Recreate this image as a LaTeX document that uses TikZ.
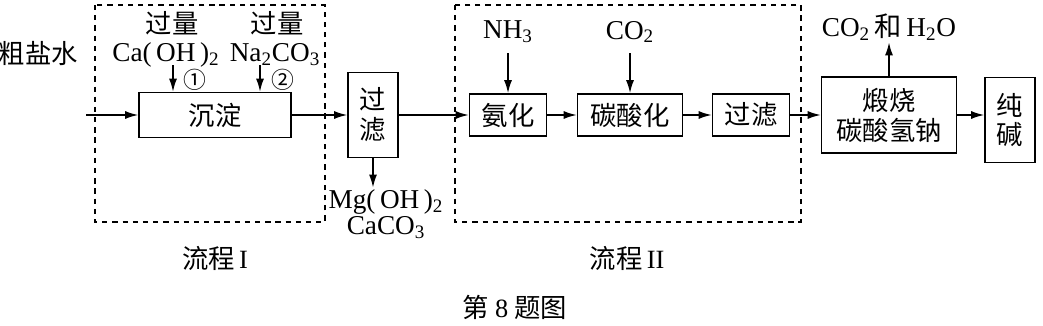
\documentclass[tikz,border=0pt]{standalone}
\usepackage{fontspec}
\setmainfont{Liberation Serif}
\newfontfamily\cjk{Noto Sans CJK SC}
\usetikzlibrary{arrows.meta,positioning}
\tikzset{
  arr/.style={-{Latex[length=2.6mm,width=1.6mm]}, line width=0.9pt},
  unit/.style={draw, line width=0.9pt, inner sep=0pt, align=center,
    font=\cjk\fontsize{15}{17}\selectfont},
  grp/.style={line width=0.9pt, dash pattern=on 3pt off 2.8pt},
  chem/.style={font=\fontsize{15.5}{15.5}\selectfont, inner sep=1pt},
  cn/.style={font=\cjk\fontsize{15}{17}\selectfont, inner sep=1pt},
  num/.style={font=\cjk\fontsize{13}{13}\selectfont, inner sep=0pt},
}

\begin{document}
\begin{tikzpicture}[x=0.02cm,y=-0.02cm]
\useasboundingbox (0,0) rectangle (1043,325);

% ===================== process I ============================================
\draw[grp] (95,5) rectangle (325,222);
\node[cn, anchor=east] (brine) at (80,53) {粗盐水};
\coordinate (feed) at (86,115);
\node[unit, minimum width=3.04cm, minimum height=0.9cm] (precip) at (215,115) {沉淀};
\node[cn] (xsA) at (172,23) {过量};
\node[chem] (caoh) at (166,55) {Ca(\,OH\,)\textsubscript{2}};
\node[cn] (xsB) at (277,23) {过量};
\node[chem] (naco) at (275,55) {Na\textsubscript{2}CO\textsubscript{3}};
\coordinate (dA) at (173,65);
\coordinate (dB) at (260,65);
\draw[arr] (feed) -- (precip);
\draw[arr] (dA) -- (dA |- precip.north);
\draw[arr] (dB) -- (dB |- precip.north);
\node[num] (stA) at (195,80) {①};
\node[num] (stB) at (283,80) {②};
\node[cn] (labA) at (215,258) {流程\,\rmfamily I};

% ===================== filtration ===========================================
\node[unit, minimum width=1.0cm, minimum height=1.7cm] (filtA) at (373,115) {过\\滤};
\node[chem, align=center, font=\fontsize{15.5}{13}\selectfont] (solid) at (386,214)
  {Mg(\,OH\,)\textsubscript{2}\\CaCO\textsubscript{3}};
\draw[arr] (precip) -- (filtA);
\draw[arr] (filtA) -- (filtA |- solid.north);

% ===================== process II ===========================================
\draw[grp] (455,5) rectangle (801,222);
\node[unit, minimum width=1.54cm, minimum height=0.84cm] (ammon) at (508,115) {氨化};
\node[unit, minimum width=2.1cm, minimum height=0.84cm] (carbon) at (630,115) {碳酸化};
\node[unit, minimum width=1.54cm, minimum height=0.84cm] (filtB) at (751,115) {过滤};
\node[chem] (nh3) at (508,32) {NH\textsubscript{3}};
\node[chem] (co2) at (630,32) {CO\textsubscript{2}};
\draw[arr] (filtA) -- (ammon);
\draw[arr] (ammon) -- (carbon);
\draw[arr] (carbon) -- (filtB);
\draw[arr, shorten <=0.16cm] (nh3) -- (ammon);
\draw[arr, shorten <=0.16cm] (co2) -- (carbon);
\node[cn] (labB) at (627,258) {流程\,\rmfamily II};

% ===================== calcination ==========================================
\node[unit, minimum width=2.7cm, minimum height=1.52cm] (calc) at (889,115) {煅烧\\碳酸氢钠};
\node[unit, minimum width=1.0cm, minimum height=1.7cm] (soda) at (1010,120) {纯\\碱};
\node[chem] (gas) at (889,27) {CO\textsubscript{2}\,{\cjk 和}\,H\textsubscript{2}O};
\draw[arr] (filtB) -- (calc);
\draw[arr] (calc) -- (gas);
\draw[arr] (calc.east) -- (calc.east -| soda.west);

\node[cn] (cap) at (515,307) {第 {\rmfamily 8} 题图};

\end{tikzpicture}
\end{document}
